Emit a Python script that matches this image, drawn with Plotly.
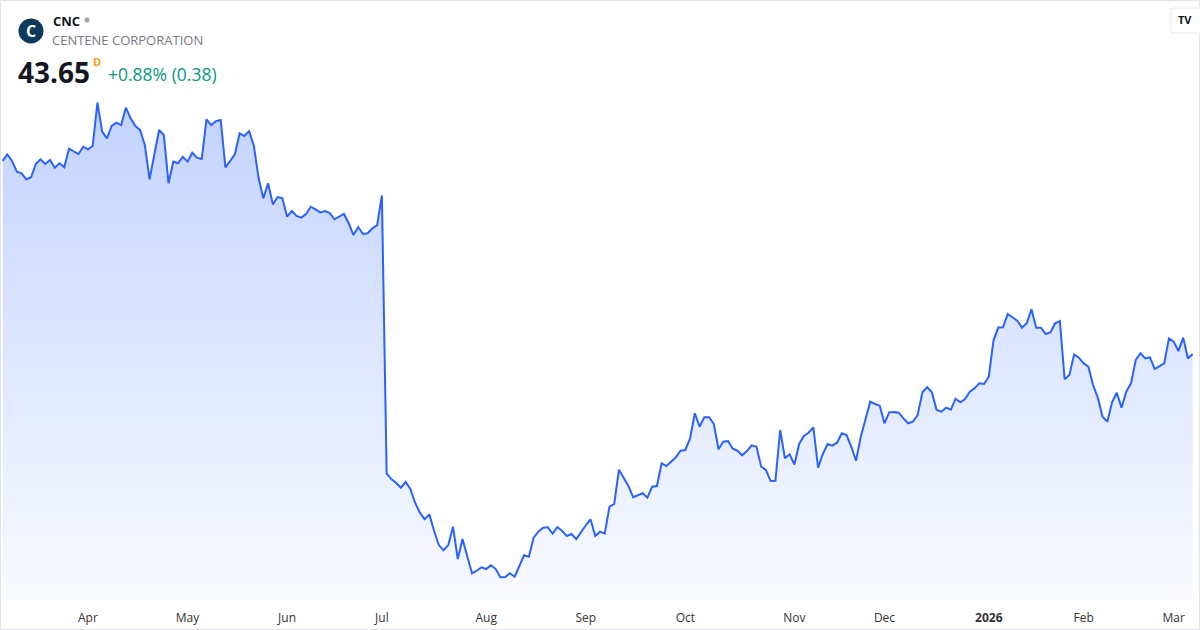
import pandas as pd
import plotly.graph_objects as go


# --------------------------------------------------
# Data: CNC daily closes, Mar 2025 - Mar 2026
# --------------------------------------------------
holidays = [
    "2025-04-18", "2025-05-26", "2025-06-19", "2025-07-04", "2025-09-01",
    "2025-11-27", "2025-12-25", "2026-01-01", "2026-01-19", "2026-02-16",
]

dates = [
    d.strftime("%Y-%m-%d")
    for d in pd.bdate_range("2025-03-06", "2026-03-06")
    if d.strftime("%Y-%m-%d") not in holidays
]

prices = [
    60.06, 60.62, 60.06, 59.15, 59.01, 58.50, 58.67, 59.80, 60.20, 59.80,
    60.14, 59.49, 59.86, 59.52, 61.10, 60.86, 60.65, 61.27, 61.05, 61.33,
    65.01, 62.55, 61.98, 63.03, 63.31, 63.11, 64.59, 63.68, 63.03, 62.69,
    61.41, 58.50, 60.71, 62.69, 62.26, 58.16, 60.00, 59.86, 60.42, 60.00,
    60.76, 60.34, 60.22, 63.60, 63.11, 63.45, 63.54, 59.52, 60.06, 60.65,
    62.41, 62.18, 62.60, 61.33, 58.58, 56.88, 58.16, 56.37, 56.99, 56.91,
    55.32, 55.80, 55.38, 55.24, 55.55, 56.17, 55.95, 55.69, 55.80, 55.63,
    55.10, 55.32, 55.55, 54.76, 53.76, 54.44, 53.85, 53.91, 54.33, 54.61,
    57.12, 33.51, 33.00, 32.71, 32.29, 32.77, 32.17, 31.01, 30.16, 29.60,
    30.02, 28.63, 27.41, 26.96, 27.41, 28.97, 26.22, 27.92, 26.42, 25.01,
    25.23, 25.52, 25.37, 25.69, 25.37, 24.67, 24.69, 25.01, 24.72, 25.63,
    26.54, 26.42, 28.04, 28.55, 28.89, 28.92, 28.38, 28.94, 28.63, 28.18,
    28.35, 27.92, 28.52, 29.09, 29.60, 28.18, 28.55, 28.38, 30.67, 30.90,
    33.82, 33.17, 32.43, 31.47, 31.66, 31.81, 31.44, 32.37, 32.43, 34.36,
    34.13, 34.50, 34.87, 35.43, 35.49, 36.48, 38.61, 37.47, 38.27, 38.27,
    37.70, 35.55, 36.20, 36.25, 35.60, 35.43, 35.04, 35.40, 35.89, 35.77,
    34.07, 33.79, 32.85, 32.88, 37.19, 34.78, 35.12, 34.26, 36.00, 36.68,
    36.96, 37.42, 33.99, 35.15, 36.00, 35.86, 36.11, 36.91, 36.76, 35.77,
    34.58, 36.62, 38.18, 39.60, 39.40, 39.26, 37.76, 38.69, 38.72, 38.66,
    38.18, 37.76, 37.90, 38.46, 40.39, 40.82, 40.39, 38.89, 38.75, 39.09,
    38.92, 39.85, 39.54, 39.82, 40.45, 40.73, 41.16, 41.10, 41.72, 44.81,
    45.90, 45.92, 47.05, 46.77, 46.48, 45.89, 46.26, 47.45, 45.89, 45.89,
    45.35, 45.49, 46.26, 46.45, 41.50, 41.86, 43.62, 43.34, 42.86, 42.57,
    41.01, 39.94, 38.32, 37.90, 39.54, 40.36, 39.09, 40.45, 41.16, 43.14,
    43.71, 43.28, 43.37, 42.37, 42.63, 42.86, 44.98, 44.70, 43.90, 45.04,
    43.27, 43.65,
]

tick_months = ["2025-04", "2025-05", "2025-06", "2025-07", "2025-08", "2025-09",
               "2025-10", "2025-11", "2025-12", "2026-01", "2026-02", "2026-03"]
tick_labels = ["Apr", "May", "Jun", "Jul", "Aug", "Sep",
               "Oct", "Nov", "Dec", "<b>2026</b>", "Feb", "Mar"]

tick_vals = [next(d for d in dates if d.startswith(m)) for m in tick_months]

W, H, PLOT_H = 1200, 630, 600
Y_LO, Y_HI = 22.74, 73.74


def px(x):
    return x / W


def py(y):
    return 1 - y / PLOT_H


# --------------------------------------------------
# Area chart
# --------------------------------------------------
fig = go.Figure(
    go.Scatter(
        x=dates,
        y=prices,
        mode="lines",
        line=dict(color="#2962FF", width=2),
        fill="tozeroy",
        fillgradient=dict(
            type="vertical",
            start=Y_LO,
            stop=max(prices),
            colorscale=[[0, "rgba(41,98,255,0.03)"], [1, "rgba(41,98,255,0.28)"]],
        ),
        hoverinfo="skip",
    )
)

fig.update_layout(
    width=W,
    height=H,
    margin=dict(l=0, r=0, t=0, b=30),
    paper_bgcolor="white",
    plot_bgcolor="white",
    showlegend=False,
    font=dict(family="Open Sans, sans-serif", color="#131722"),
    xaxis=dict(
        type="category",
        range=[-0.55, 252.55],
        tickvals=tick_vals,
        ticktext=tick_labels,
        showgrid=False,
        showline=False,
        zeroline=False,
        ticks="",
        ticklabelstandoff=9,
        tickfont=dict(size=12, color="#333333"),
    ),
    yaxis=dict(
        range=[Y_LO, Y_HI],
        visible=False,
        showgrid=False,
    ),
)

# --------------------------------------------------
# Header and frame
# --------------------------------------------------
shapes = [
    dict(type="rect", xref="paper", yref="paper",
         x0=px(0.5), x1=px(1199.5), y0=py(629.5), y1=py(0.5),
         line=dict(color="#e0e3eb", width=1), fillcolor="rgba(0,0,0,0)"),
    dict(type="circle", xref="paper", yref="paper",
         x0=px(18.5), x1=px(43.5), y0=py(43.5), y1=py(18.5),
         line=dict(width=0), fillcolor="#0b3a5d"),
    dict(type="circle", xref="paper", yref="paper",
         x0=px(84.5), x1=px(89.5), y0=py(22.5), y1=py(17.5),
         line=dict(width=0), fillcolor="#a3a6af"),
    dict(type="rect", xref="paper", yref="paper",
         x0=px(1171), x1=px(1201), y0=py(33), y1=py(8),
         line=dict(color="#e6e8ee", width=1), fillcolor="white"),
]

annotations = [
    dict(text="<b>C</b>", x=px(31), y=py(31), font=dict(size=16, color="white")),
    dict(text="<b>CNC</b>", x=px(51), y=py(21), xanchor="left",
         font=dict(size=13, color="#131722")),
    dict(text="CENTENE CORPORATION", x=px(50), y=py(40), xanchor="left",
         font=dict(size=13, color="#787b86")),
    dict(text="<b>43.65</b>", x=px(16), y=py(72), xanchor="left",
         font=dict(size=28, color="#131722")),
    dict(text="<b>D</b>", x=px(97), y=py(61), font=dict(size=11, color="#ff9800")),
    dict(text="+0.88% (0.38)", x=px(106), y=py(74), xanchor="left",
         font=dict(size=17.5, color="#089981")),
    dict(text="<b>TV</b>", x=px(1185), y=py(20), font=dict(size=11, color="#131722")),
]

for a in annotations:
    a.update(xref="paper", yref="paper", showarrow=False)
    a.setdefault("xanchor", "center")
    a["yanchor"] = "middle"

fig.update_layout(shapes=shapes, annotations=annotations)

fig.write_html(
    "out.html",
    config={"displayModeBar": False},
    post_script="document.body.style.margin='0';document.body.style.overflow='hidden';",
)
